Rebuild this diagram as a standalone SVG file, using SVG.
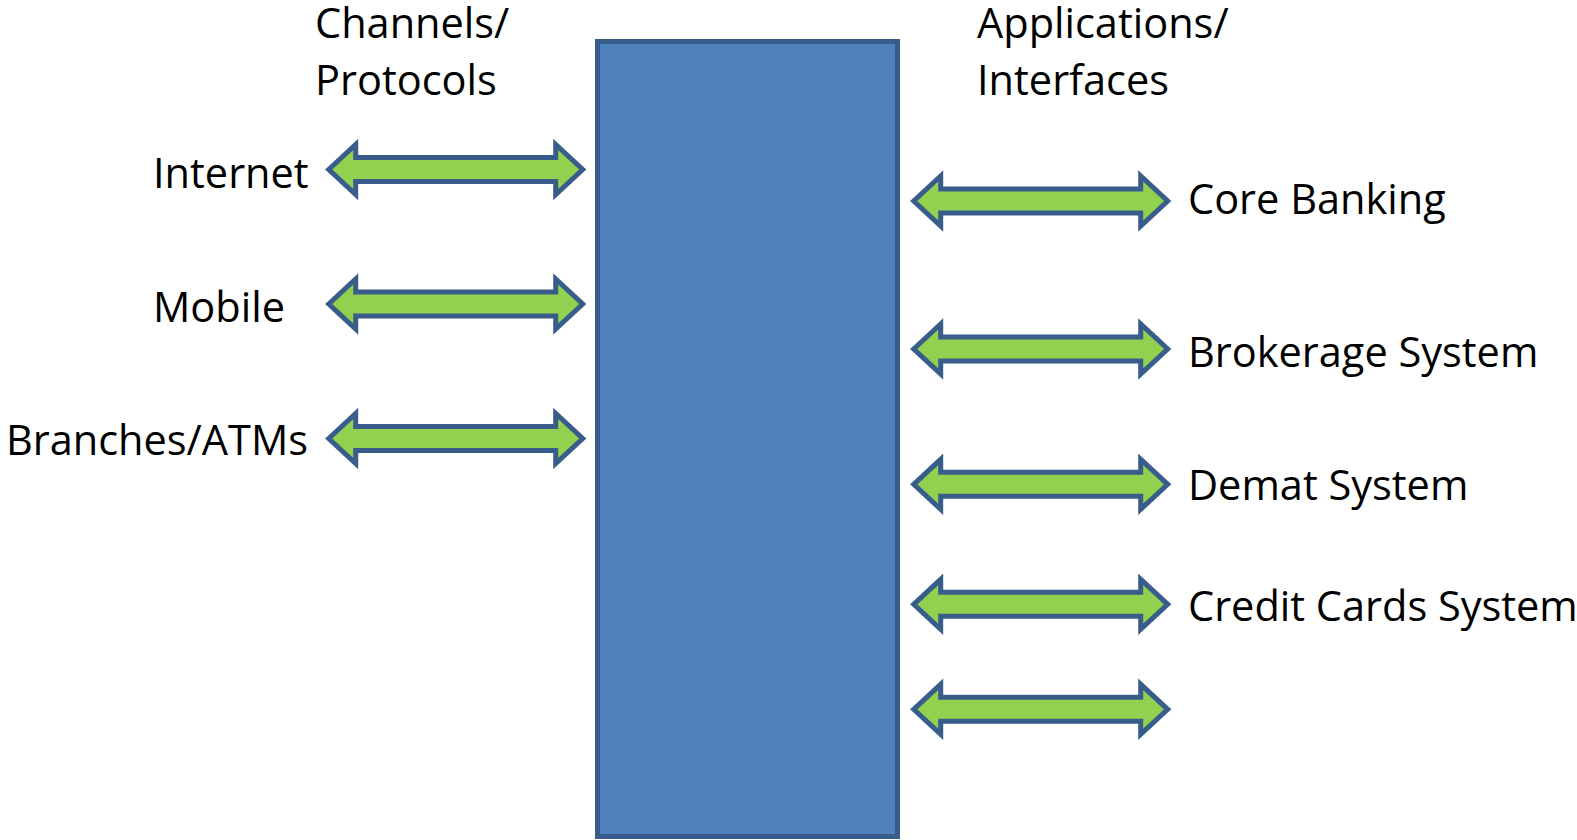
<svg xmlns="http://www.w3.org/2000/svg" xmlns:xlink="http://www.w3.org/1999/xlink" width="1577" height="840" viewBox="0 0 1577 840">
  <style>
    .lbl { font-family: "Open Sans", "Liberation Sans", sans-serif; font-size: 41.5px; fill: #000000; }
    .arrow { fill: #92D050; stroke: #385D8A; stroke-width: 5; stroke-linejoin: miter; stroke-miterlimit: 10; }
    .hub { fill: #4F81BD; stroke: #385D8A; stroke-width: 5; }
  </style>
  <defs>
    <path id="dbl" class="arrow" d="M0,0 L27,-25 L27,-12 L227,-12 L227,-25 L254,0 L227,25 L227,12 L27,12 L27,25 Z"/>
  </defs>
  <rect width="1577" height="840" fill="#FFFFFF"/>

  <g id="hub">
    <rect class="hub" x="597.5" y="41.5" width="300" height="795"/>
  </g>

  <g id="headers">
    <text class="lbl" x="315" y="38">Channels/</text>
    <text class="lbl" x="315" y="94.5">Protocols</text>
    <text class="lbl" x="977" y="38">Applications/</text>
    <text class="lbl" x="977" y="94.5">Interfaces</text>
  </g>

  <g id="node-internet"><text class="lbl" x="153" y="187.5">Internet</text></g>
  <g id="node-mobile"><text class="lbl" x="153" y="321.5">Mobile</text></g>
  <g id="node-branches"><text class="lbl" x="308" y="455" text-anchor="end">Branches/ATMs</text></g>
  <g id="node-core"><text class="lbl" x="1188" y="214">Core Banking</text></g>
  <g id="node-brokerage"><text class="lbl" x="1188" y="366.5">Brokerage System</text></g>
  <g id="node-demat"><text class="lbl" x="1188" y="500">Demat System</text></g>
  <g id="node-credit"><text class="lbl" x="1188" y="621">Credit Cards System</text></g>

  <g id="connectors">
    <use xlink:href="#dbl" href="#dbl" transform="translate(328.7,169.5)"/>
    <use xlink:href="#dbl" href="#dbl" transform="translate(328.7,304)"/>
    <use xlink:href="#dbl" href="#dbl" transform="translate(328.7,438.5)"/>
    <use xlink:href="#dbl" href="#dbl" transform="translate(913.7,201)"/>
    <use xlink:href="#dbl" href="#dbl" transform="translate(913.7,349)"/>
    <use xlink:href="#dbl" href="#dbl" transform="translate(913.7,484.3)"/>
    <use xlink:href="#dbl" href="#dbl" transform="translate(913.7,604.3)"/>
    <use xlink:href="#dbl" href="#dbl" transform="translate(913.7,709.3)"/>
  </g>
</svg>
